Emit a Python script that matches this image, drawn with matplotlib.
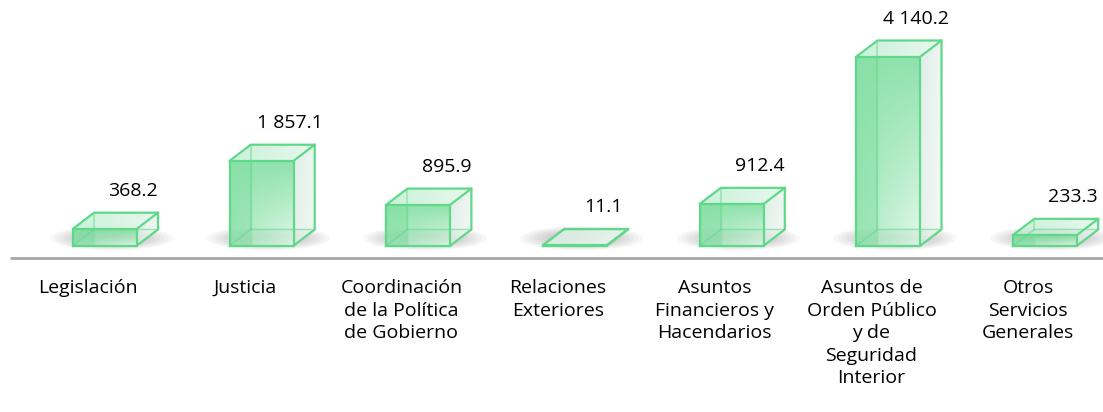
import numpy as np
import matplotlib
matplotlib.use("Agg")
import matplotlib.pyplot as plt
from matplotlib.patches import Polygon, Ellipse

categorias = ["Legislación", "Justicia", "Coordinación\nde la Política\nde Gobierno",
              "Relaciones\nExteriores", "Asuntos\nFinancieros y\nHacendarios",
              "Asuntos de\nOrden Público\ny de\nSeguridad\nInterior",
              "Otros\nServicios\nGenerales"]
valores = [368.2, 1857.1, 895.9, 11.1, 912.4, 4140.2, 233.3]
etiquetas = ["368.2", "1 857.1", "895.9", "11.1", "912.4", "4 140.2", "233.3"]

W, H = 1103, 412
# pixel geometry -> data units
px_x = 156.7          # pixels per category
px_v = 4140.2 / 189   # value units per pixel
base_px = 245.5       # pixel row (from top) of value 0
x0_px = 88            # pixel column of first category

fig = plt.figure(figsize=(W / 100, H / 100), dpi=100)
ax = fig.add_axes([0, 0, 1, 1])
ax.axis("off")

xlim = (-x0_px / px_x, (W - x0_px) / px_x)
ylim = (-(H - base_px) * px_v, base_px * px_v)

off = -15 / px_x      # front face left offset from label centre
bw = 64 / px_x        # front width
dx = 21 / px_x        # depth offsets
dy = 16 * px_v

verde = np.array([0.42, 0.85, 0.57])
claro = np.array([0.94, 0.99, 0.96])
borde = "#5fd88a"
fuente = "Open Sans"


def grad_front(n=80):
    t = np.linspace(0, 1, n)[:, None]
    u = np.linspace(0, 1, n)[None, :]
    m = 0.12 + 0.75 * t * (0.35 + 0.65 * u)
    m = np.where(u < 0.35, m * 0.55, m)
    m = np.clip(m, 0, 1)[..., None]
    rgb = verde * (1 - m) + claro * m
    a = np.full((n, n, 1), 0.85)
    return np.concatenate([rgb, a], axis=2)


def grad_side(n=60):
    t = np.linspace(0, 1, n)[:, None]
    u = np.linspace(0, 1, n)[None, :]
    c1 = np.array([0.80, 0.90, 0.85])
    c2 = np.array([0.95, 0.97, 0.96])
    m = np.clip(0.3 + 0.5 * u + 0.2 * t, 0, 1)[..., None]
    rgb = c1 * (1 - m) + c2 * m
    a = np.full((n, n, 1), 0.8)
    return np.concatenate([rgb, a], axis=2)


def grad_top(n=60):
    u = np.linspace(0, 1, n)[None, :] * np.ones((n, 1))
    c1 = np.array([0.72, 0.93, 0.80])
    c2 = np.array([0.88, 0.96, 0.91])
    m = u[..., None]
    rgb = c1 * (1 - m) + c2 * m
    a = np.full((n, n, 1), 0.75)
    return np.concatenate([rgb, a], axis=2)


def cara(pts, img, z):
    pts = np.array(pts)
    poly = Polygon(pts, closed=True, transform=ax.transData, facecolor="none", edgecolor="none")
    ax.add_patch(poly)
    im = ax.imshow(img, extent=[pts[:, 0].min(), pts[:, 0].max(), pts[:, 1].min(), pts[:, 1].max()],
                   origin="upper", aspect="auto", interpolation="bilinear", zorder=z)
    im.set_clip_path(poly)


# sombras en el piso
for i, v in enumerate(valores):
    cx = i + off + (bw + dx) / 2 - 4 / px_x
    for k in range(12):
        f = 1 - k / 14
        e = Ellipse((cx, dy * 0.45), (bw + dx + 38 / px_x) * f, 24 * px_v * f,
                    facecolor="#707070", edgecolor="none", alpha=0.05, zorder=1)
        ax.add_patch(e)

for i, v in enumerate(valores):
    xl = i + off
    xr = xl + bw
    # cara lateral, superior y frontal
    cara([(xr, 0), (xr + dx, dy), (xr + dx, v + dy), (xr, v)], grad_side(), 3)
    cara([(xl, v), (xl + dx, v + dy), (xr + dx, v + dy), (xr, v)], grad_top(), 3)
    if v > 50:
        ax.imshow(grad_front(), extent=[xl, xr, 0, v], origin="upper", aspect="auto",
                  interpolation="bilinear", zorder=4)
    else:
        cara([(xl, 0), (xl + dx, dy), (xr + dx, dy), (xr, 0)], grad_side(), 4)
    # aristas traseras, vistas a traves del vidrio
    ax.plot([xl + dx, xl + dx], [dy, v + dy], color=borde, lw=1.1, alpha=0.55, zorder=4.5)
    ax.plot([xl, xl + dx, xr + dx], [0, dy, dy], color=borde, lw=1.1, alpha=0.55, zorder=4.5)
    # aristas visibles
    ax.plot([xl, xr, xr, xl, xl], [0, 0, v, v, 0], color=borde, lw=1.6, zorder=5)
    ax.plot([xl, xl + dx, xr + dx, xr], [v, v + dy, v + dy, v], color=borde, lw=1.6, zorder=5)
    ax.plot([xr + dx, xr + dx, xr], [v + dy, dy, 0], color=borde, lw=1.6, zorder=5)
    # etiqueta de valor
    ax.text(i + 28 / px_x + off + bw / 2, v + dy + 22 * px_v, etiquetas[i],
            ha="center", va="center", fontsize=14, family=fuente, color="#000000", zorder=6)

# linea base
ax.plot([10 / px_x + xlim[0], xlim[1]], [-12.5 * px_v] * 2, color="#a6a6a6", lw=2, zorder=2,
        solid_capstyle="butt")

for i, c in enumerate(categorias):
    ax.text(i, -(279 - base_px) * px_v, c, ha="center", va="top", fontsize=14,
            family=fuente, linespacing=1.33, color="#000000")

ax.set_xlim(*xlim)
ax.set_ylim(*ylim)
fig.savefig("out.png", dpi=100)
